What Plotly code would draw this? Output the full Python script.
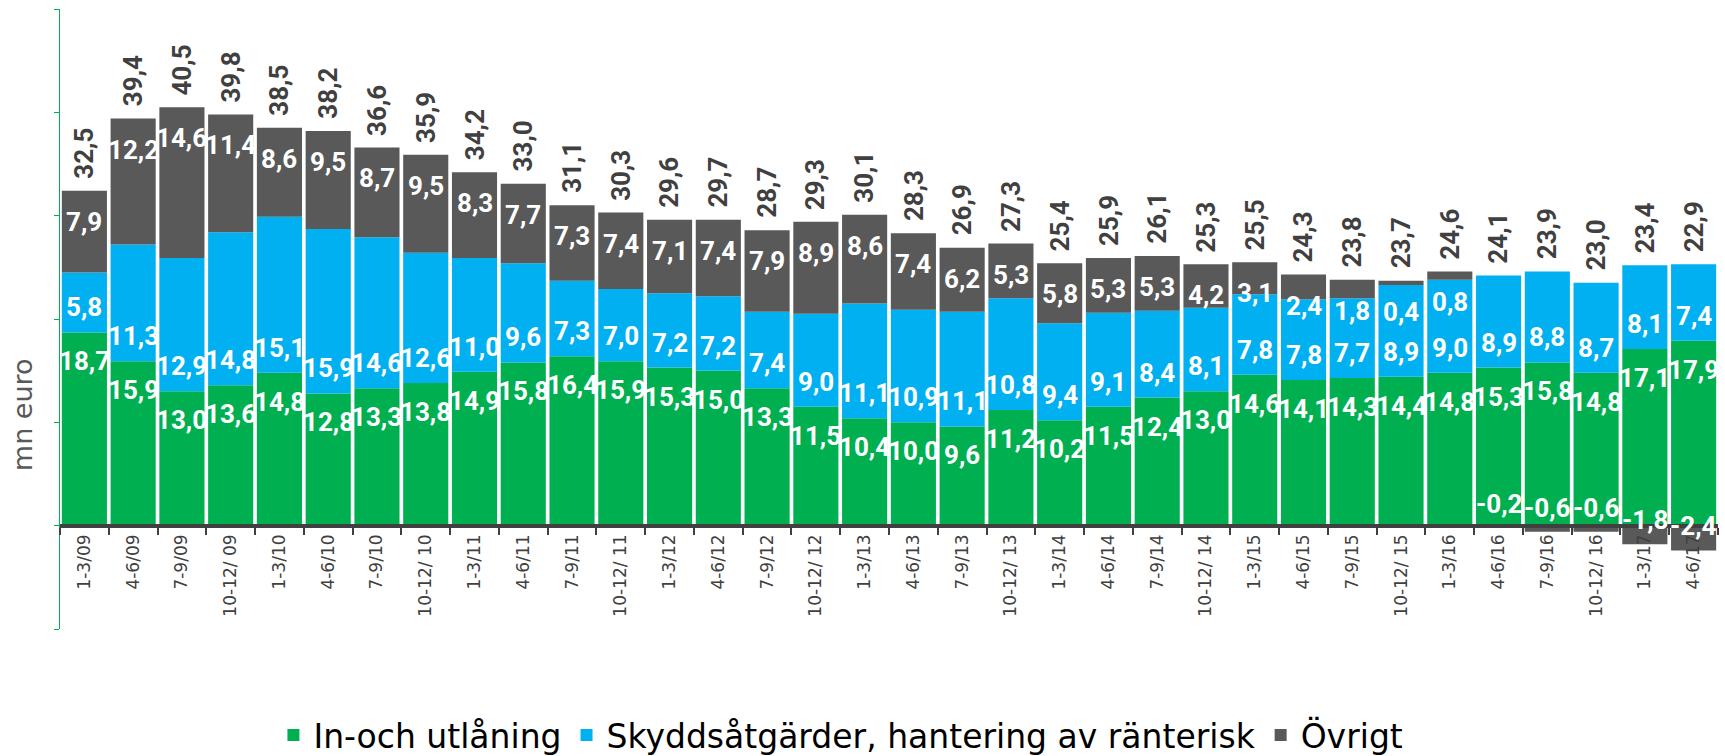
import plotly.graph_objects as go

categories = ["1-3/09", "4-6/09", "7-9/09", "10-12/ 09", "1-3/10", "4-6/10", "7-9/10", "10-12/ 10",
              "1-3/11", "4-6/11", "7-9/11", "10-12/ 11", "1-3/12", "4-6/12", "7-9/12", "10-12/ 12",
              "1-3/13", "4-6/13", "7-9/13", "10-12/ 13", "1-3/14", "4-6/14", "7-9/14", "10-12/ 14",
              "1-3/15", "4-6/15", "7-9/15", "10-12/ 15", "1-3/16", "4-6/16", "7-9/16", "10-12/ 16",
              "1-3/17", "4-6/17"]

lending = [18.7, 15.9, 13.0, 13.6, 14.8, 12.8, 13.3, 13.8, 14.9, 15.8, 16.4, 15.9, 15.3, 15.0, 13.3, 11.5,
           10.4, 10.0, 9.6, 11.2, 10.2, 11.5, 12.4, 13.0, 14.6, 14.1, 14.3, 14.4, 14.8, 15.3, 15.8, 14.8,
           17.1, 17.9]
hedging = [5.8, 11.3, 12.9, 14.8, 15.1, 15.9, 14.6, 12.6, 11.0, 9.6, 7.3, 7.0, 7.2, 7.2, 7.4, 9.0,
           11.1, 10.9, 11.1, 10.8, 9.4, 9.1, 8.4, 8.1, 7.8, 7.8, 7.7, 8.9, 9.0, 8.9, 8.8, 8.7,
           8.1, 7.4]
other = [7.9, 12.2, 14.6, 11.4, 8.6, 9.5, 8.7, 9.5, 8.3, 7.7, 7.3, 7.4, 7.1, 7.4, 7.9, 8.9,
         8.6, 7.4, 6.2, 5.3, 5.8, 5.3, 5.3, 4.2, 3.1, 2.4, 1.8, 0.4, 0.8, -0.2, -0.6, -0.6,
         -1.8, -2.4]
totals = [32.5, 39.4, 40.5, 39.8, 38.5, 38.2, 36.6, 35.9, 34.2, 33.0, 31.1, 30.3, 29.6, 29.7, 28.7, 29.3,
          30.1, 28.3, 26.9, 27.3, 25.4, 25.9, 26.1, 25.3, 25.5, 24.3, 23.8, 23.7, 24.6, 24.1, 23.9, 23.0,
          23.4, 22.9]

series_names = ["In-och utlåning", "Skyddsåtgärder, hantering av ränterisk", "Övrigt"]
series_colors = ["#00B050", "#00B0F0", "#595959"]

LABEL_FONT = "Roboto, Arial, sans-serif"
AXIS_FONT = "DejaVu Sans, Verdana, sans-serif"


def fmt(v):
    return f"{v:.1f}".replace(".", ",")


fig = go.Figure()
for name, vals, col in zip(series_names, [lending, hedging, other], series_colors):
    fig.add_trace(go.Bar(x=categories, y=vals, name=name, marker=dict(color=col, line=dict(width=0)),
                         hoverinfo="skip"))

seg_font = dict(family=LABEL_FONT, size=26, color="white", weight="bold")
tot_font = dict(family=LABEL_FONT, size=26, color="#404040", weight="bold")

for i, c in enumerate(categories):
    g, h, o = lending[i], hedging[i], other[i]
    # green: inside end
    fig.add_annotation(x=c, y=g, text=fmt(g), showarrow=False, yanchor="top", yshift=-12, font=seg_font)
    # blue: inside base
    fig.add_annotation(x=c, y=g, text=fmt(h), showarrow=False, yanchor="bottom", yshift=8, font=seg_font)
    # grey
    if o >= 0:
        top = g + h + o
        fig.add_annotation(x=c, y=top, text=fmt(o), showarrow=False, yanchor="top", yshift=-14, font=seg_font)
    else:
        top = g + h
        fig.add_annotation(x=c, y=o, text=fmt(o), showarrow=False, yanchor="bottom", yshift=7, font=seg_font)
    fig.add_annotation(x=c, y=top, text=fmt(totals[i]), textangle=-90, showarrow=False,
                       xanchor="center", yanchor="bottom", yshift=10, font=tot_font)

fig.add_annotation(xref="paper", yref="paper", x=-0.0229, y=0.345, text="mn euro", textangle=-90,
                   showarrow=False, xanchor="center", yanchor="middle",
                   font=dict(family=AXIS_FONT, size=27, color="#595959"))

ymin, ymax = -10, 50
fig.update_layout(
    width=1725, height=756,
    barmode="relative", bargap=0.075,
    plot_bgcolor="white", paper_bgcolor="white",
    margin=dict(l=60, r=7, t=9, b=127, autoexpand=False),
    showlegend=True,
    legend=dict(orientation="h", x=0.471, xanchor="center", y=-0.171, yanchor="middle",
                font=dict(family=AXIS_FONT, size=33, color="black"), itemwidth=30,
                traceorder="normal"),
    xaxis=dict(anchor="free", position=(0 - ymin) / (ymax - ymin), showline=True, linecolor="#404040",
               linewidth=4, ticks="outside", tickson="boundaries", ticklen=7, tickwidth=2,
               tickcolor="#404040", tickangle=-90, tickfont=dict(family=AXIS_FONT, size=17, color="#404040"),
               showgrid=False, zeroline=False, range=[-0.5, len(categories) - 0.5]),
    yaxis=dict(range=[ymin, ymax], dtick=10, showticklabels=False, ticks="outside", ticklen=5,
               tickcolor="#00B050", showline=True, linecolor="#00B050", linewidth=1,
               showgrid=False, zeroline=False),
)

fig.write_html("out.html", config={"displayModeBar": False},
               post_script="document.body.style.margin='0';document.body.style.overflow='hidden';")
